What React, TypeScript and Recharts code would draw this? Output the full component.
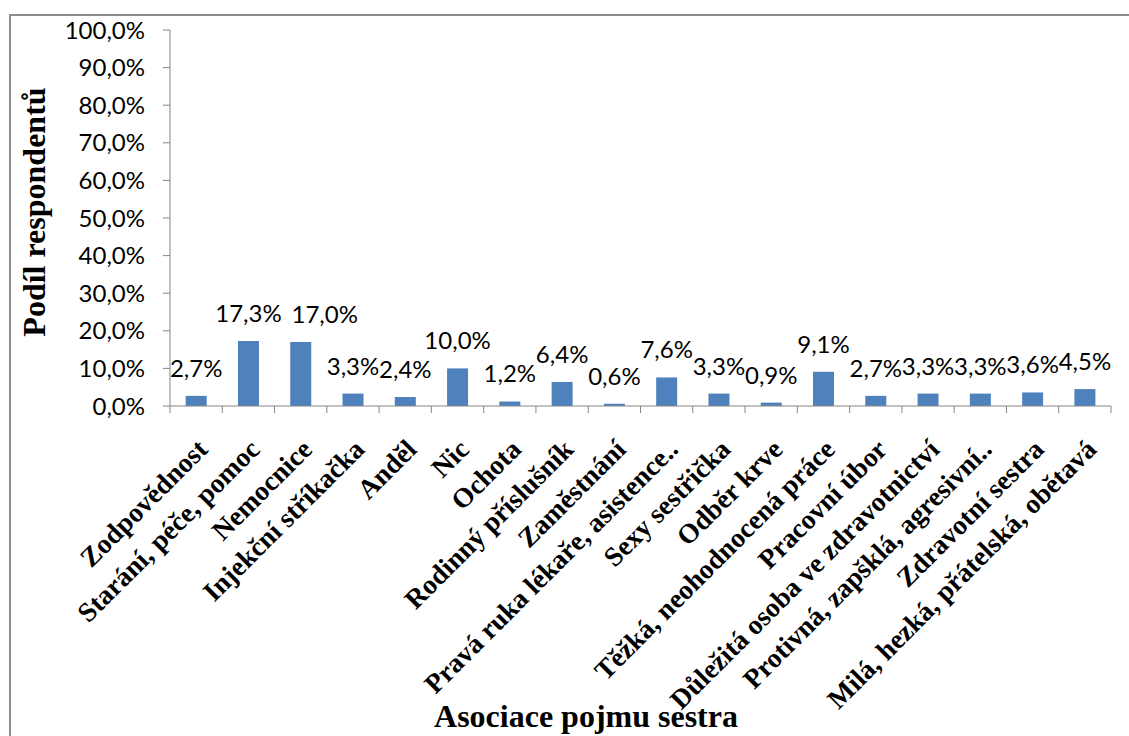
import { Bar, BarChart, Label, LabelList, XAxis, YAxis } from "recharts";

const categories = [
  "Zodpovědnost",
  "Starání, péče, pomoc",
  "Nemocnice",
  "Injekční stříkačka",
  "Anděl",
  "Nic",
  "Ochota",
  "Rodinný příslušník",
  "Zaměstnání",
  "Pravá ruka lékaře, asistence..",
  "Sexy sestřička",
  "Odběr krve",
  "Těžká, neohodnocená práce",
  "Pracovní úbor",
  "Důležitá osoba ve zdravotnictví",
  "Protivná, zapšklá, agresivní..",
  "Zdravotní sestra",
  "Milá, hezká, přátelská, obětavá"
];

const shares = [2.7, 17.3, 17.0, 3.3, 2.4, 10.0, 1.2, 6.4, 0.6, 7.6, 3.3, 0.9, 9.1, 2.7, 3.3, 3.3, 3.6, 4.5];

const yTicks = [0, 10, 20, 30, 40, 50, 60, 70, 80, 90, 100];

const data = categories.map((name, i) => ({ name, share: shares[i] }));

const pct = (v: number) => `${Number(v).toFixed(1).replace(".", ",")}%`;

const axisGray = "#868686";
const serif = "'Times New Roman', 'Liberation Serif', serif";
const sans = "Lato, 'Open Sans', sans-serif";

function CategoryTick(props: any) {
  const { x, y, payload, index } = props;
  const half = payload?.offset || 26;
  const ax = x + 13;
  const ay = y + 45;
  return (
    <g>
      <line x1={x - half} x2={x - half} y1={y} y2={y + 7} stroke={axisGray} />
      {index === categories.length - 1 && (
        <line x1={x + half} x2={x + half} y1={y} y2={y + 7} stroke={axisGray} />
      )}
      <text
        x={ax}
        y={ay}
        transform={`rotate(-45, ${ax}, ${ay})`}
        textAnchor="end"
        fontFamily={serif}
        fontWeight="bold"
        fontSize={27.5}
        fill="#000"
      >
        {payload.value}
      </text>
    </g>
  );
}

// Excel moved the "17,0%" label aside so it does not collide with its neighbour
function ValueLabel(props: any) {
  const { x, y, width, value, index } = props;
  const nudge = index === 2 ? 24 : 0;
  return (
    <text
      x={x + width / 2 + nudge}
      y={y - 19}
      textAnchor="middle"
      fontFamily={sans}
      fontSize={24}
      fill="#000"
    >
      {pct(value)}
    </text>
  );
}

export default function App() {
  return (
    <div style={{ position: "absolute", left: 0, top: 0, width: 1129, height: 736, overflow: "hidden", background: "#fff" }}>
      <div
        style={{
          position: "absolute",
          left: 9,
          top: 14,
          width: 1200,
          height: 800,
          border: "2px solid #8c8c8c",
          boxSizing: "border-box"
        }}
      />
      <div style={{ position: "absolute", left: 0, top: 0 }}>
        <BarChart width={1129} height={736} data={data} margin={{ top: 30, right: 18, bottom: 0, left: 0 }} barCategoryGap="30%">
          <XAxis
            dataKey="name"
            height={330}
            interval={0}
            stroke={axisGray}
            tickLine={false}
            tickSize={0}
            tickMargin={0}
            tick={<CategoryTick />}
          >
            <Label
              content={({ viewBox }: any) => (
                <text
                  x={viewBox.x + 416}
                  y={viewBox.y + 321}
                  textAnchor="middle"
                  fontFamily={serif}
                  fontWeight="bold"
                  fontSize={32}
                  fill="#000"
                >
                  Asociace pojmu sestra
                </text>
              )}
            />
          </XAxis>
          <YAxis
            width={170}
            domain={[0, 100]}
            ticks={yTicks}
            interval={0}
            stroke={axisGray}
            tickSize={7}
            tickMargin={18}
            tickFormatter={pct}
            tick={{ fill: "#000", fontFamily: sans, fontSize: 24 }}
          >
            <Label
              content={({ viewBox }: any) => {
                const lx = 45;
                const ly = viewBox.y + viewBox.height / 2 - 6;
                return (
                  <text
                    x={lx}
                    y={ly}
                    transform={`rotate(-90, ${lx}, ${ly})`}
                    textAnchor="middle"
                    fontFamily={serif}
                    fontWeight="bold"
                    fontSize={32}
                    fill="#000"
                  >
                    Podíl respondentů
                  </text>
                );
              }}
            />
          </YAxis>
          <Bar dataKey="share" fill="#4F81BD" isAnimationActive={false}>
            <LabelList dataKey="share" content={<ValueLabel />} />
          </Bar>
        </BarChart>
      </div>
    </div>
  );
}
